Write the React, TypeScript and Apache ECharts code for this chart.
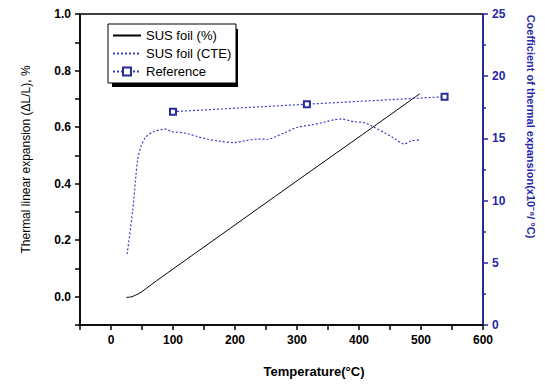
import React, { useEffect, useRef } from "react";
import * as echarts from "echarts";

// Temperature (°C) vs thermal linear expansion (%)
const susFoilPct: [number, number][] = [
  [25, -0.002], [32, -0.001], [40, 0.006], [50, 0.018], [65, 0.043],
  [100, 0.098], [200, 0.254], [300, 0.41], [400, 0.565], [498, 0.718],
];

// Temperature (°C) vs CTE (x10^-6/°C)
const susFoilCte: [number, number][] = [
  [26, 5.7], [35, 9.2], [40, 11.9], [43, 13.3], [48, 14.3], [56, 15.1], [67, 15.5],
  [80, 15.7], [89, 15.75], [97, 15.55], [113, 15.47], [126, 15.35], [140, 15.14],
  [156, 14.93], [172, 14.8], [199, 14.66], [215, 14.8], [237, 14.95], [253, 14.93],
  [263, 15.09], [280, 15.46], [301, 15.9], [323, 16.08], [344, 16.3], [360, 16.5],
  [372, 16.55], [392, 16.34], [409, 16.26], [425, 15.88], [441, 15.46], [457, 15.0],
  [473, 14.55], [484, 14.8], [497, 14.87],
];

const referenceCte: [number, number][] = [
  [100, 17.15], [316, 17.75], [538, 18.35],
];

const xTickLabels = [0, 100, 200, 300, 400, 500, 600];
const leftTickLabels = ["0.0", "0.2", "0.4", "0.6", "0.8", "1.0"];
const rightTickLabels = [0, 5, 10, 15, 20, 25];

const FONT = "'Liberation Sans', Arial, sans-serif";
const BLUE = "#2626a8";
const DOT_BLUE = "#3a3ac8";

export default function App() {
  const ref = useRef<HTMLDivElement>(null);
  useEffect(() => {
    if (!ref.current) return;
    const chart = echarts.init(ref.current, undefined, { renderer: "svg" });
    chart.setOption({
      animation: false,
      backgroundColor: "#ffffff",
      textStyle: { fontFamily: FONT },
      grid: {
        left: 80, right: 62, top: 14, bottom: 60,
        show: true, borderColor: "#000", borderWidth: 1.5, backgroundColor: "transparent",
      },
      legend: {
        orient: "vertical",
        left: 108,
        top: 24,
        padding: [4, 4, 4, 4],
        itemGap: 3,
        itemWidth: 28,
        itemHeight: 10,
        backgroundColor: "#fff",
        borderColor: "#000",
        borderWidth: 1,
        borderRadius: 0,
        textStyle: { fontFamily: FONT, fontSize: 13, color: "#000", width: 86, lineHeight: 15 },
        data: [
          { name: "SUS foil (%)", itemStyle: { opacity: 0 } },
          { name: "SUS foil (CTE)", itemStyle: { opacity: 0 } },
          { name: "Reference" },
        ],
      },
      graphic: [
        { type: "rect", z: 1, shape: { x: 112, y: 29, width: 126, height: 58 }, style: { fill: "#000" } },
      ],
      xAxis: {
        type: "value",
        min: -50,
        max: 600,
        interval: 50,
        name: "Temperature(°C)",
        nameLocation: "middle",
        nameGap: 40,
        nameTextStyle: { fontFamily: FONT, fontSize: 13, fontWeight: "bold", color: "#000", padding: [0, 0, 0, 65] },
        axisLine: { onZero: false, lineStyle: { color: "#000", width: 1.5 } },
        axisTick: { show: true, length: 5, inside: false, lineStyle: { color: "#000", width: 1.5 } },
        axisLabel: {
          margin: 9,
          fontFamily: FONT, fontSize: 12, fontWeight: "bold", color: "#000",
          formatter: (v: number) => (xTickLabels.includes(Math.round(v)) ? String(Math.round(v)) : ""),
        },
        splitLine: { show: false },
      },
      yAxis: [
        {
          type: "value",
          position: "left",
          min: -0.1,
          max: 1.0,
          interval: 0.1,
          name: "Thermal linear expansion (ΔL/L), %",
          nameLocation: "middle",
          nameGap: 48,
          nameTextStyle: { fontFamily: FONT, fontSize: 12, color: "#000", padding: [0, 0, 0, 20] },
          axisLine: { show: true, onZero: false, lineStyle: { color: "#000", width: 1.5 } },
          axisTick: { show: true, length: 5, lineStyle: { color: "#000", width: 1.5 } },
          axisLabel: {
            margin: 9,
            fontFamily: FONT, fontSize: 12, fontWeight: "bold", color: "#000",
            formatter: (v: number) => {
              const s = v.toFixed(1);
              return leftTickLabels.includes(s) ? s : "";
            },
          },
          splitLine: { show: false },
        },
        {
          type: "value",
          position: "right",
          min: 0,
          max: 25,
          interval: 5,
          name: "Coefficient of thermal expansion(x10⁻⁶/ °C)",
          nameLocation: "middle",
          nameRotate: -90,
          nameGap: 42,
          nameTextStyle: { fontFamily: FONT, fontSize: 11, fontWeight: "bold", color: BLUE, padding: [0, 86, 0, 0] },
          axisLine: { show: true, onZero: false, lineStyle: { color: BLUE, width: 1.5 } },
          axisTick: { show: true, length: 5, lineStyle: { color: BLUE, width: 1.5 } },
          minorTick: { show: true, splitNumber: 2, length: 3, lineStyle: { color: BLUE, width: 1.5 } },
          axisLabel: {
            margin: 9,
            fontFamily: FONT, fontSize: 12, fontWeight: "bold", color: BLUE,
            formatter: (v: number) => (rightTickLabels.includes(Math.round(v)) ? String(Math.round(v)) : ""),
          },
          splitLine: { show: false },
        },
      ],
      series: [
        {
          name: "SUS foil (%)",
          type: "line",
          yAxisIndex: 0,
          data: susFoilPct,
          symbol: "none",
          smooth: 0.3,
          lineStyle: { color: "#000", width: 1, type: "solid" },
          itemStyle: { color: "#000" },
        },
        {
          name: "SUS foil (CTE)",
          type: "line",
          yAxisIndex: 1,
          data: susFoilCte,
          symbol: "none",
          smooth: 0.3,
          lineStyle: { color: DOT_BLUE, width: 1.2, type: [2, 2] },
          itemStyle: { color: DOT_BLUE },
        },
        {
          name: "Reference",
          type: "line",
          yAxisIndex: 1,
          data: referenceCte,
          symbol: "emptyRect",
          symbolSize: 6,
          lineStyle: { color: DOT_BLUE, width: 1.2, type: [2, 2] },
          itemStyle: { color: "#2a2a9a", borderWidth: 1.2 },
        },
      ],
    });
    return () => chart.dispose();
  }, []);
  return <div ref={ref} style={{ position: "fixed", left: 0, top: 0, width: 545, height: 385 }} />;
}
